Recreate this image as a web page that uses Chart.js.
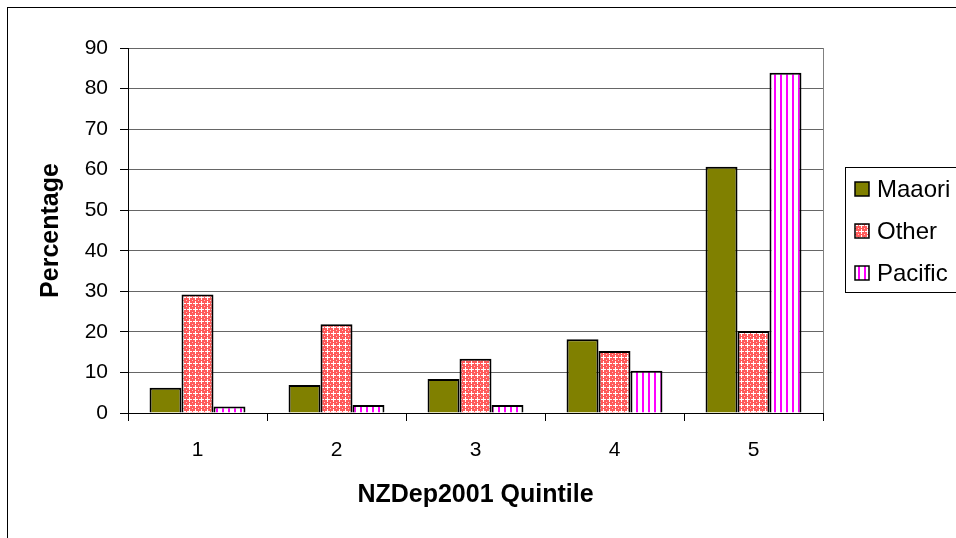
<!DOCTYPE html>
<html>
<head>
<meta charset="utf-8">
<script src="https://cdn.jsdelivr.net/npm/chart.js@4.4.1/dist/chart.umd.min.js"></script>
<style>
  html, body { margin: 0; padding: 0; background: #fff; }
  #chart { display: block; }
</style>
</head>
<body>
<canvas id="chart" width="956" height="538"></canvas>
<script>
// Data
const quintiles = ['1', '2', '3', '4', '5'];
const maaori = [6.2, 6.9, 8.4, 18.2, 60.7];
const other = [29.2, 21.9, 13.4, 15.3, 20.2];
const pacific = [1.6, 2.0, 2.0, 10.4, 83.9];
const seriesNames = ['Maaori', 'Other', 'Pacific'];
const yTicks = [0, 10, 20, 30, 40, 50, 60, 70, 80, 90];

const FONT = '"Liberation Sans", Arial, sans-serif';

// Fill patterns
function makeOtherPattern(ctx) {
    const c = document.createElement('canvas');
    c.width = 6; c.height = 6;
    const p = c.getContext('2d');
    p.fillStyle = '#ff5a5a';
    p.fillRect(0, 0, 6, 6);
    p.fillStyle = '#ffffff';
    p.fillRect(3, 1, 1, 5);
    p.fillRect(1, 3, 5, 1);
    p.fillStyle = '#ffc8c8';
    p.fillRect(0, 0, 1, 1);
    return ctx.createPattern(c, 'repeat');
}

function makePacificPattern(ctx) {
    const c = document.createElement('canvas');
    c.width = 6; c.height = 6;
    const p = c.getContext('2d');
    p.fillStyle = '#ffffff';
    p.fillRect(0, 0, 6, 6);
    p.fillStyle = '#ff00ff';
    p.fillRect(0, 0, 2, 6);
    return ctx.createPattern(c, 'repeat');
}

const canvas = document.getElementById('chart');
const ctx = canvas.getContext('2d');
const fills = ['#808000', makeOtherPattern(ctx), makePacificPattern(ctx)];

// Frame, titles and legend
const decorations = {
    id: 'decorations',
    beforeDraw(chart) {
        const c = chart.ctx;
        c.save();
        c.fillStyle = '#fff';
        c.fillRect(0, 0, chart.width, chart.height);
        c.restore();
    },
    afterDraw(chart) {
        const c = chart.ctx;
        const area = chart.chartArea;
        c.save();

        // plot area right border
        c.strokeStyle = '#808080';
        c.lineWidth = 1;
        c.beginPath();
        c.moveTo(Math.round(area.right) + 0.5, area.top);
        c.lineTo(Math.round(area.right) + 0.5, area.bottom);
        c.stroke();

        // outer frame
        c.strokeStyle = '#000';
        c.strokeRect(7.5, 7.5, chart.width, chart.height);

        // axis titles
        c.fillStyle = '#000';
        c.font = 'bold 25px ' + FONT;
        c.textAlign = 'center';
        c.textBaseline = 'middle';
        c.fillText('NZDep2001 Quintile', (area.left + area.right) / 2, 495);
        c.save();
        c.translate(51, (area.top + area.bottom) / 2);
        c.rotate(-Math.PI / 2);
        c.fillText('Percentage', 0, 0);
        c.restore();

        // legend
        c.strokeStyle = '#000';
        c.strokeRect(845.5, 167.5, 130, 125);
        c.font = '24px ' + FONT;
        c.textAlign = 'left';
        seriesNames.forEach((name, i) => {
            const y = 189 + i * 42;
            c.fillStyle = fills[i];
            c.fillRect(855, y - 7, 14, 14);
            c.strokeStyle = '#000';
            c.lineWidth = 1.5;
            c.strokeRect(855, y - 7, 14, 14);
            c.fillStyle = '#000';
            c.fillText(name, 877, y + 1);
        });
        c.restore();
    }
};

const datasets = [maaori, other, pacific].map((values, i) => ({
    label: seriesNames[i],
    data: values,
    backgroundColor: fills[i],
    borderColor: '#000',
    borderWidth: 2,
    categoryPercentage: 0.69,
    barPercentage: 1.0
}));

new Chart(ctx, {
    type: 'bar',
    data: { labels: quintiles, datasets },
    plugins: [decorations],
    options: {
        responsive: false,
        animation: false,
        devicePixelRatio: 1,
        layout: { padding: { top: 48, right: 133, left: 0, bottom: 0 } },
        plugins: {
            legend: { display: false },
            tooltip: { enabled: false }
        },
        scales: {
            x: {
                grid: {
                    display: true,
                    drawOnChartArea: false,
                    drawTicks: true,
                    tickLength: 8,
                    color: '#000',
                    offset: true
                },
                border: { color: '#000', width: 1 },
                ticks: { color: '#000', font: { family: FONT, size: 21 }, padding: 17 },
                afterFit(scale) { scale.height = 125; }
            },
            y: {
                min: 0,
                max: 90,
                afterBuildTicks(scale) { scale.ticks = yTicks.map(v => ({ value: v })); },
                grid: { color: '#666', tickColor: '#000', tickLength: 8 },
                border: { color: '#000', width: 1 },
                ticks: { color: '#000', font: { family: FONT, size: 21 }, padding: 12 },
                afterFit(scale) { scale.width = 128; }
            }
        }
    }
});
</script>
</body>
</html>
